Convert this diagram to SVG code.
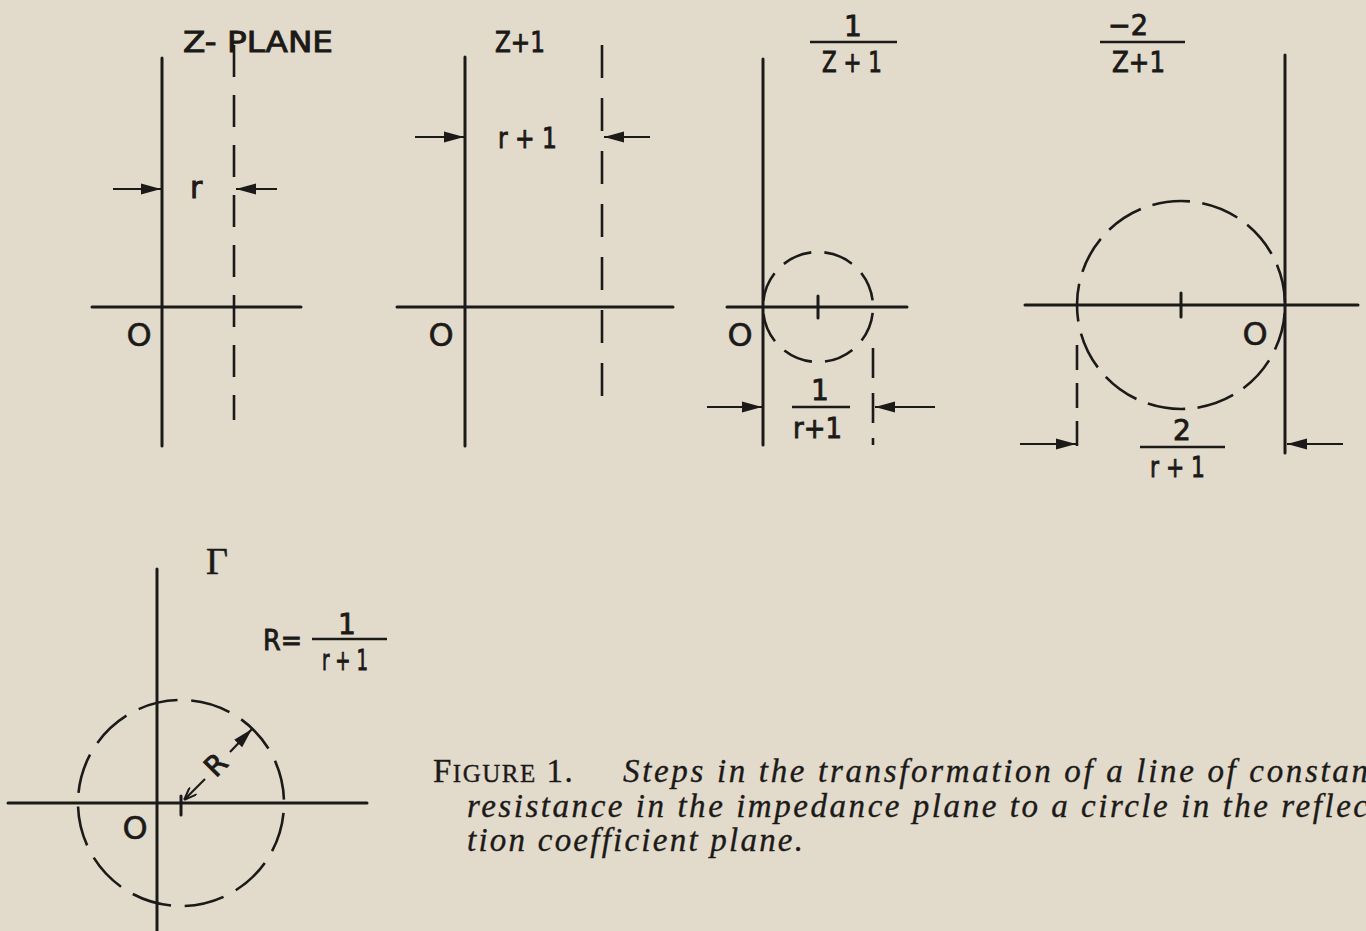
<svg xmlns="http://www.w3.org/2000/svg" width="1366" height="931" viewBox="0 0 1366 931">
<style>
.ln{stroke:#1c1a18;stroke-width:3;fill:none;stroke-linecap:round}
.dl{stroke:#1c1a18;stroke-width:2.6;fill:none;stroke-dasharray:32 18}
.dc{stroke:#1c1a18;stroke-width:2.6;fill:none}
.ar{stroke:#1c1a18;stroke-width:2.2;fill:none;marker-end:url(#ah)}
.fr{stroke:#1c1a18;stroke-width:2.4}
.lb{font-family:"DejaVu Sans","Liberation Sans",sans-serif;font-size:28px;fill:#1c1a18;stroke:#1c1a18;stroke-width:0.9}
.o{font-family:"DejaVu Sans","Liberation Sans",sans-serif;font-size:32px;fill:#1c1a18;stroke:#1c1a18;stroke-width:0.6}
.cap{font-family:"Liberation Serif",serif;font-size:33px;fill:#1c1a18;stroke:#1c1a18;stroke-width:0.35}
.it{font-style:italic}
</style>
<defs>
<marker id="ah" markerUnits="userSpaceOnUse" markerWidth="22" markerHeight="12" refX="20" refY="6" orient="auto">
<path d="M0,0.5 L20,6 L0,11.5 z" fill="#1c1a18"/>
</marker>
<marker id="ahs" markerUnits="userSpaceOnUse" markerWidth="14" markerHeight="10" refX="0" refY="5" orient="auto">
<path d="M13,0 L0,5 L13,10" fill="none" stroke="#1c1a18" stroke-width="2"/>
</marker>
</defs>
<rect width="1366" height="931" fill="#e2dbcc"/>

<g id="panel-z-plane">
<line class="ln" x1="162" y1="58" x2="162" y2="446"/>
<line class="ln" x1="92" y1="307" x2="301" y2="307"/>
<line class="dl" x1="234" y1="45" x2="234" y2="420"/>
<text class="lb" x="183" y="52" textLength="150" lengthAdjust="spacingAndGlyphs">Z- PLANE</text>
<text class="lb" x="190" y="198" style="font-size:30px">r</text>
<text class="o" x="139" y="346" text-anchor="middle">O</text>
</g>

<g id="panel-z-plus-1">
<line class="ln" x1="465" y1="57" x2="465" y2="446"/>
<line class="ln" x1="397" y1="307" x2="673" y2="307"/>
<line class="dl" x1="602" y1="45" x2="602" y2="408" style="stroke-dasharray:33 20"/>
<text class="lb" x="495" y="52" textLength="50" lengthAdjust="spacingAndGlyphs">Z+1</text>
<text class="lb" x="498" y="148" textLength="59" lengthAdjust="spacingAndGlyphs">r + 1</text>
<text class="o" x="441" y="346" text-anchor="middle">O</text>
</g>

<g id="panel-inverse">
<line class="ln" x1="763" y1="59" x2="763" y2="445"/>
<line class="ln" x1="727" y1="307" x2="907" y2="307"/>
<line class="ln" x1="818" y1="296" x2="818" y2="318"/>
<circle class="dc" cx="818" cy="307" r="55" style="stroke-dasharray:30 13.2" stroke-dashoffset="-6"/>
<line class="dl" x1="873" y1="348" x2="873" y2="445" style="stroke-dasharray:30 15"/>
<text class="lb" x="853" y="36" text-anchor="middle">1</text>
<line class="fr" x1="810" y1="42" x2="897" y2="42"/>
<text class="lb" x="822" y="72" textLength="60" lengthAdjust="spacingAndGlyphs">Z + 1</text>
<text class="lb" x="820" y="400" text-anchor="middle">1</text>
<line class="fr" x1="792" y1="407" x2="850" y2="407"/>
<text class="lb" x="793" y="438" textLength="49" lengthAdjust="spacingAndGlyphs">r+1</text>
<text class="o" x="740" y="346" text-anchor="middle">O</text>
</g>

<g id="panel-minus-2">
<line class="ln" x1="1285" y1="55" x2="1285" y2="453"/>
<line class="ln" x1="1025" y1="305" x2="1358" y2="305"/>
<line class="ln" x1="1181" y1="293" x2="1181" y2="317"/>
<circle class="dc" cx="1181" cy="305" r="104" style="stroke-dasharray:38 12.3" stroke-dashoffset="-8"/>
<line class="dl" x1="1077" y1="345" x2="1077" y2="455" style="stroke-dasharray:25 13"/>
<text class="lb" x="1108" y="35" textLength="40" lengthAdjust="spacingAndGlyphs">−2</text>
<line class="fr" x1="1100" y1="42" x2="1185" y2="42"/>
<text class="lb" x="1112" y="72" textLength="53" lengthAdjust="spacingAndGlyphs">Z+1</text>
<text class="lb" x="1182" y="440" text-anchor="middle">2</text>
<line class="fr" x1="1140" y1="447" x2="1225" y2="447"/>
<text class="lb" x="1150" y="477" textLength="55" lengthAdjust="spacingAndGlyphs">r + 1</text>
<text class="o" x="1255" y="345" text-anchor="middle">O</text>
</g>

<g id="panel-gamma">
<line class="ln" x1="157" y1="569" x2="157" y2="931"/>
<line class="ln" x1="8" y1="803" x2="367" y2="803"/>
<line class="ln" x1="181" y1="796" x2="181" y2="815"/>
<circle class="dc" cx="181" cy="803" r="103" style="stroke-dasharray:40 13.9" stroke-dashoffset="-10"/>
<text x="206" y="574" style="font-family:'Liberation Serif',serif;font-size:38px;fill:#1c1a18;stroke:#1c1a18;stroke-width:0.5">Γ</text>
<text class="lb" x="263" y="650" textLength="39" lengthAdjust="spacingAndGlyphs">R=</text>
<text class="lb" x="347" y="634" text-anchor="middle">1</text>
<line class="fr" x1="312" y1="639" x2="387" y2="639"/>
<text class="lb" x="322" y="670" textLength="46" lengthAdjust="spacingAndGlyphs">r + 1</text>
<text class="lb" x="217" y="774" text-anchor="middle" transform="rotate(-45 217 766)">R</text>
<text class="o" x="135" y="839" text-anchor="middle">O</text>
</g>

<g id="connectors">
<line class="ar" x1="113" y1="189" x2="161" y2="189"/>
<line class="ar" x1="277" y1="189" x2="236" y2="189"/>
<line class="ar" x1="415" y1="137" x2="464" y2="137"/>
<line class="ar" x1="650" y1="137" x2="604" y2="137"/>
<line class="ar" x1="707" y1="407" x2="762" y2="407"/>
<line class="ar" x1="935" y1="407" x2="875" y2="407"/>
<line class="ar" x1="1020" y1="444" x2="1076" y2="444"/>
<line class="ar" x1="1343" y1="444" x2="1287" y2="444"/>
<line x1="184" y1="800" x2="205" y2="779" stroke="#1c1a18" stroke-width="2.2" marker-start="url(#ahs)"/>
<line class="ar" x1="230" y1="752" x2="252" y2="729"/>
</g>

<g id="caption">
<text class="cap" x="433" y="782" letter-spacing="1.5">F<tspan font-size="25">IGURE</tspan> 1.</text>
<text class="cap it" x="623" y="782" textLength="745" lengthAdjust="spacing">Steps in the transformation of a line of constan</text>
<text class="cap it" x="467" y="817" textLength="901" lengthAdjust="spacing">resistance in the impedance plane to a circle in the reflec</text>
<text class="cap it" x="467" y="851" textLength="336" lengthAdjust="spacing">tion coefficient plane.</text>
</g>
</svg>
